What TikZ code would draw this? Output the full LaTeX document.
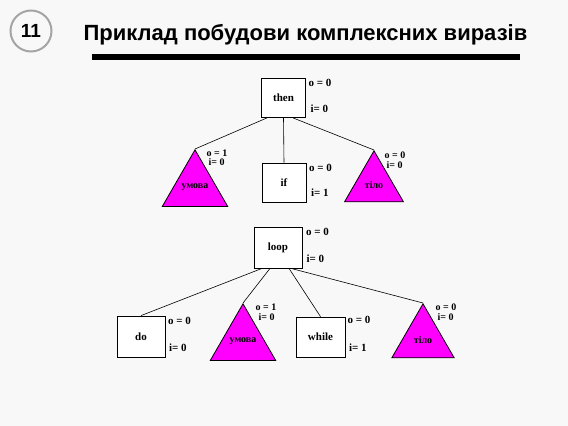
\documentclass[tikz,border=0pt]{standalone}
\usepackage{fontspec}
\setmainfont{Liberation Serif}
\newfontfamily\headfont{Liberation Sans}
\usetikzlibrary{shapes.geometric,calc}
\definecolor{slidebg}{RGB}{248,248,248}
\definecolor{trimag}{RGB}{255,0,255}
\definecolor{ringgray}{RGB}{165,165,165}
\tikzset{
  opbox/.style  ={rectangle, draw=black, line width=0.8pt, fill=white,
                  minimum width=44pt, minimum height=39pt, inner sep=0pt,
                  font=\fontsize{11}{11}\selectfont\bfseries},
  tri/.style    ={regular polygon, regular polygon sides=3, draw=black,
                  line width=0.8pt, fill=trimag, inner sep=0pt,
                  font=\fontsize{10}{10}\selectfont\bfseries},
  attr/.style   ={anchor=base west, inner sep=0pt,
                  font=\fontsize{11}{11}\selectfont\bfseries},
  triattr/.style={attr, font=\fontsize{10}{10}\selectfont\bfseries},
  branch/.style ={draw=black, line width=0.6pt},
}
\begin{document}
\begin{tikzpicture}[x=1pt,y=-1pt]
\fill[slidebg] (0,0) rectangle (568,426);
\useasboundingbox (0,0) rectangle (568,426);

% heading
\node[circle, draw=ringgray, line width=2pt, minimum size=41pt, inner sep=0pt,
      font=\headfont\fontsize{19}{19}\selectfont\bfseries] (num) at (31,31) {11};
\node[anchor=base, font=\headfont\fontsize{22}{22}\selectfont\bfseries] (title) at (305.5,40)
  {Приклад побудови комплексних виразів};
\fill (92,54) rectangle (520,60);

% upper tree
\node[opbox] (then) at (283.5,98) {then};
\node[opbox] (if) at (284,182.5) {if};
\node[tri, minimum size=67pt, anchor=corner 1] (cond1) at (195,149) {умова};
\node[tri, minimum size=68pt, anchor=corner 1] (body1) at (374,150) {тіло};

\draw[branch] ([xshift=-16.5pt]then.south) -- (cond1.corner 1);
\draw[branch] (then.south) -- (if.north);
\draw[branch] ([xshift=9.5pt]then.south) -- (body1.corner 1);

\node[attr] (thenO) at ([xshift=2.5pt,yshift=-8.5pt]then.north east) {o = 0};
\node[attr] (thenI) at ([xshift=4.5pt,yshift=5.5pt]then.south east) {i= 0};
\node[attr] (ifO) at ([xshift=2.5pt,yshift=-8.5pt]if.north east) {o = 0};
\node[attr] (ifI) at ([xshift=4.5pt,yshift=5.5pt]if.south east) {i= 1};
\node[triattr] (cond1O) at ([xshift=11.5pt,yshift=-7pt]cond1.corner 1) {o = 1};
\node[triattr] (cond1I) at ([xshift=13.5pt,yshift=-16.5pt]cond1.corner 1) {i= 0};
\node[triattr] (body1O) at ([xshift=10.5pt,yshift=-8.5pt]body1.corner 1) {o = 0};
\node[triattr] (body1I) at ([xshift=12.5pt,yshift=-18pt]body1.corner 1) {i= 0};

% lower tree
\node[opbox, minimum width=48pt, minimum height=41pt] (loop) at (278,247.5) {loop};
\node[opbox, minimum width=48pt, minimum height=41pt] (do) at (141,336.5) {do};
\node[opbox, minimum width=49pt, minimum height=40pt] (while) at (320.5,337) {while};
\node[tri, minimum size=72pt, anchor=corner 1] (cond2) at (243,303) {умова};
\node[tri, minimum size=72pt, anchor=corner 1] (body2) at (423,303) {тіло};

\draw[branch] ([xshift=-16pt]loop.south) -- (do.north);
\draw[branch] ([xshift=-8pt]loop.south) -- (cond2.corner 1);
\draw[branch] ([xshift=11pt]loop.south) -- (while.north);
\draw[branch] ([xshift=13pt]loop.south) -- (body2.corner 1);

\node[attr] (loopO) at ([xshift=3.5pt,yshift=-8.5pt]loop.north east) {o = 0};
\node[attr] (loopI) at ([xshift=4pt,yshift=6pt]loop.south east) {i= 0};
\node[attr] (doO) at ([xshift=2.5pt,yshift=-8.5pt]do.north east) {o = 0};
\node[attr] (doI) at ([xshift=3.5pt,yshift=5.5pt]do.south east) {i= 0};
\node[attr] (whileO) at ([xshift=2pt,yshift=-7pt]while.north east) {o = 0};
\node[attr] (whileI) at ([xshift=3.5pt,yshift=5.5pt]while.south east) {i= 1};
\node[triattr] (cond2O) at ([xshift=12.5pt,yshift=-7pt]cond2.corner 1) {o = 1};
\node[triattr] (cond2I) at ([xshift=15.5pt,yshift=-17pt]cond2.corner 1) {i= 0};
\node[triattr] (body2O) at ([xshift=12.5pt,yshift=-7pt]body2.corner 1) {o = 0};
\node[triattr] (body2I) at ([xshift=14.5pt,yshift=-17pt]body2.corner 1) {i= 0};
\end{tikzpicture}
\end{document}
